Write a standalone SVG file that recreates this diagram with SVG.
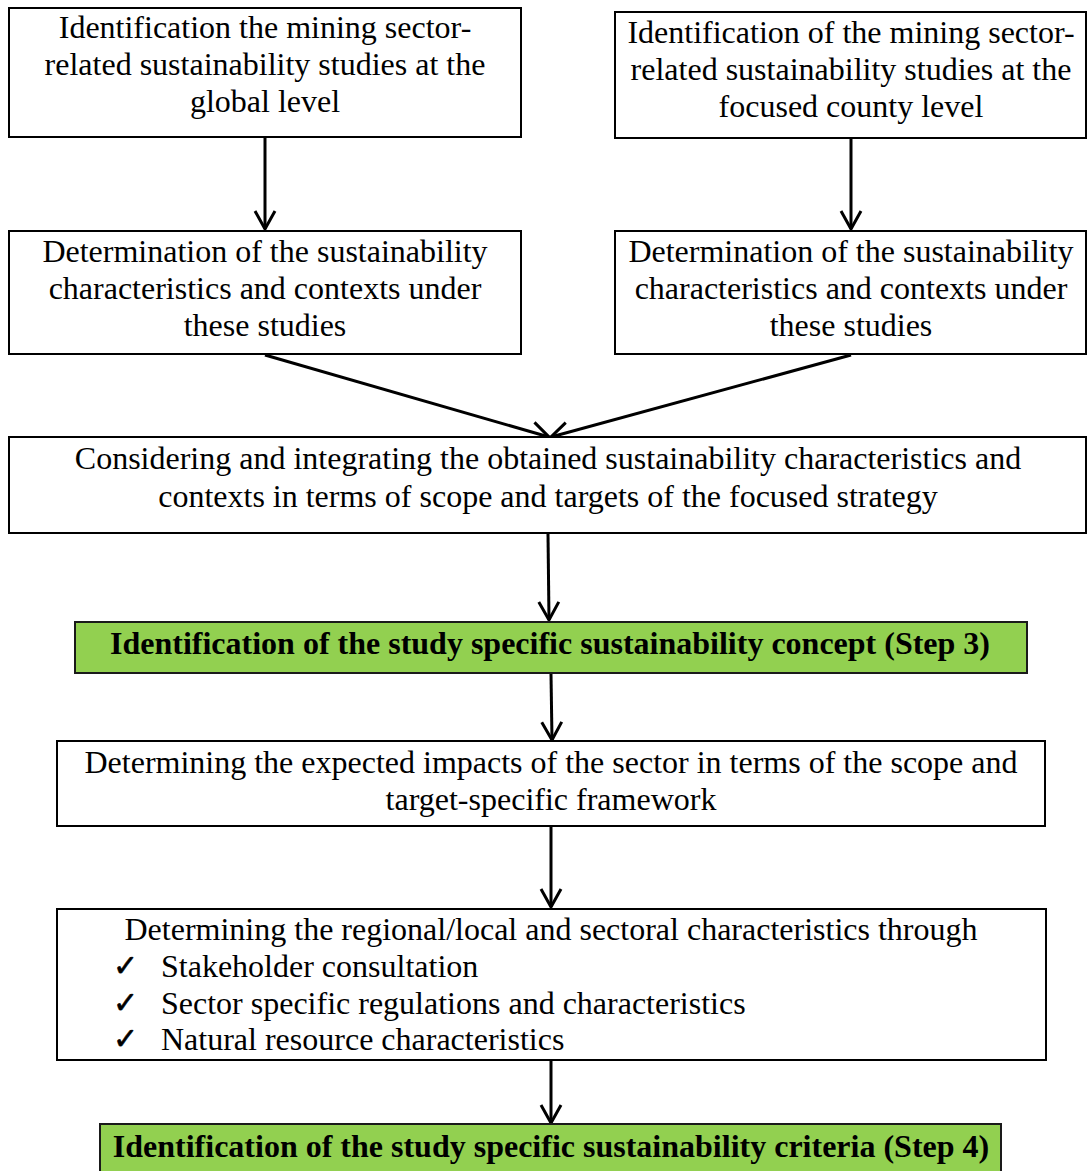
<svg xmlns="http://www.w3.org/2000/svg" width="1087" height="1171" viewBox="0 0 1087 1171">
  <style>
    .box { fill: #ffffff; stroke: #000000; stroke-width: 2; }
    .key { fill: #92d050; stroke: #1a1a1a; stroke-width: 2; }
    text { font-family: "Liberation Serif", "Times New Roman", Times, serif; font-size: 32px; fill: #000000; }
    .t { text-anchor: middle; }
    .tb { text-anchor: middle; font-weight: bold; }
    .chk { font-family: "DejaVu Sans", sans-serif; font-size: 30px; stroke: #000000; stroke-width: 0.6; }
    .edge { fill: none; stroke: #000000; stroke-width: 3; }
  </style>
  <defs>
    <marker id="arrow" viewBox="0 0 22 24" refX="20" refY="12" markerWidth="22" markerHeight="24" markerUnits="userSpaceOnUse" orient="auto">
      <path d="M2,2 L20,12 L2,22" fill="none" stroke="#000000" stroke-width="3"/>
    </marker>
  </defs>
  <rect width="1087" height="1171" fill="#ffffff"/>

  <g id="connectors">
    <line class="edge" x1="265" y1="138" x2="265" y2="229" marker-end="url(#arrow)"/>
    <line class="edge" x1="851" y1="139" x2="851" y2="229" marker-end="url(#arrow)"/>
    <line class="edge" x1="265" y1="355" x2="549" y2="437" marker-end="url(#arrow)"/>
    <line class="edge" x1="851" y1="355" x2="551" y2="437" marker-end="url(#arrow)"/>
    <line class="edge" x1="548" y1="534" x2="549" y2="620" marker-end="url(#arrow)"/>
    <line class="edge" x1="551" y1="674" x2="552" y2="740" marker-end="url(#arrow)"/>
    <line class="edge" x1="551" y1="827" x2="551" y2="907" marker-end="url(#arrow)"/>
    <line class="edge" x1="551" y1="1061" x2="551" y2="1123" marker-end="url(#arrow)"/>
  </g>

  <g id="global-studies">
    <rect class="box" x="9" y="8" width="512" height="129"/>
    <text class="t" x="265" y="38">Identification the mining sector-</text>
    <text class="t" x="265" y="75">related sustainability studies at the</text>
    <text class="t" x="265" y="112">global level</text>
  </g>

  <g id="county-studies">
    <rect class="box" x="615" y="12" width="471" height="126"/>
    <text class="t" x="851" y="43">Identification of the mining sector-</text>
    <text class="t" x="851" y="80">related sustainability studies at the</text>
    <text class="t" x="851" y="117">focused county level</text>
  </g>

  <g id="global-characteristics">
    <rect class="box" x="9" y="231" width="512" height="123"/>
    <text class="t" x="265" y="262">Determination of the sustainability</text>
    <text class="t" x="265" y="299">characteristics and contexts under</text>
    <text class="t" x="265" y="336">these studies</text>
  </g>

  <g id="county-characteristics">
    <rect class="box" x="615" y="231" width="471" height="123"/>
    <text class="t" x="851" y="262">Determination of the sustainability</text>
    <text class="t" x="851" y="299">characteristics and contexts under</text>
    <text class="t" x="851" y="336">these studies</text>
  </g>

  <g id="integration">
    <rect class="box" x="9" y="437" width="1077" height="96"/>
    <text class="t" x="548" y="469">Considering and integrating the obtained sustainability characteristics and</text>
    <text class="t" x="548" y="507">contexts in terms of scope and targets of the focused strategy</text>
  </g>

  <g id="step3">
    <rect class="key" x="75" y="622" width="952" height="51"/>
    <text class="tb" x="550" y="654">Identification of the study specific sustainability concept (Step 3)</text>
  </g>

  <g id="expected-impacts">
    <rect class="box" x="57" y="741" width="988" height="85"/>
    <text class="t" x="551" y="773">Determining the expected impacts of the sector in terms of the scope and</text>
    <text class="t" x="551" y="810">target-specific framework</text>
  </g>

  <g id="regional-characteristics">
    <rect class="box" x="57" y="909" width="989" height="151"/>
    <text class="t" x="551" y="940">Determining the regional/local and sectoral characteristics through</text>
    <text class="chk" x="113" y="976">✓</text>
    <text x="161" y="977">Stakeholder consultation</text>
    <text class="chk" x="113" y="1013">✓</text>
    <text x="161" y="1014">Sector specific regulations and characteristics</text>
    <text class="chk" x="113" y="1049">✓</text>
    <text x="161" y="1050">Natural resource characteristics</text>
  </g>

  <g id="step4">
    <rect class="key" x="100" y="1124" width="901" height="60"/>
    <text class="tb" x="551" y="1157">Identification of the study specific sustainability criteria (Step 4)</text>
  </g>
</svg>
